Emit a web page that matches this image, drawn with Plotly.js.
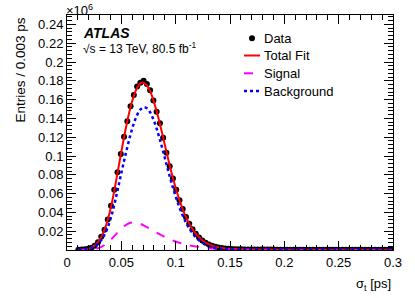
<!DOCTYPE html>
<html>
<head>
<meta charset="utf-8">
<script src="https://cdn.plot.ly/plotly-3.0.1.min.js"></script>
<style>html,body{margin:0;padding:0;background:#fff;}#chart{width:415px;height:298px;}</style>
</head>
<body>
<div id="chart"></div>
<script>
// bin centres of sigma_t [ps], bin width 0.003 ps
const sigmaT = [0.0105,0.0135,0.0165,0.0195,0.0225,0.0255,0.0285,0.0315,0.0345,0.0375,
0.0405,0.0435,0.0465,0.0495,0.0525,0.0555,0.0585,0.0615,0.0645,0.0675,
0.0705,0.0735,0.0765,0.0795,0.0825,0.0855,0.0885,0.0915,0.0945,0.0975,
0.1005,0.1035,0.1065,0.1095,0.1125,0.1155,0.1185,0.1215,0.1245,0.1275,
0.1305,0.1335,0.1365,0.1395,0.1425,0.1455,0.1485,0.1515,0.1545,0.1575,
0.1605,0.1635,0.1665,0.1695,0.1725,0.1755,0.1785,0.1815,0.1845,0.1875,
0.1905,0.1935,0.1965,0.1995,0.2025,0.2055,0.2085,0.2115,0.2145,0.2175,
0.2205,0.2235,0.2265,0.2295,0.2325,0.2355,0.2385,0.2415,0.2445,0.2475,
0.2505,0.2535,0.2565,0.2595,0.2625,0.2655,0.2685,0.2715,0.2745,0.2775,
0.2805,0.2835,0.2865,0.2895,0.2925,0.2955,0.2985];

// entries (x10^6)
const dataEntries = [0.0003,0.0005,0.0008,0.0014,0.0025,0.0045,0.0082,0.0140,0.0215,0.0325,
0.0470,0.0640,0.0826,0.1020,0.1205,0.1370,0.1530,0.1650,0.1740,0.1780,
0.1800,0.1766,0.1700,0.1590,0.1470,0.1348,0.1195,0.1035,0.0890,0.0760,
0.0640,0.0530,0.0435,0.0350,0.0280,0.0222,0.0172,0.0132,0.0100,0.0076,
0.0058,0.0044,0.0034,0.0026,0.0020,0.0016,0.0013,0.0011,0.0009,0.0008,
0.0007,0.0006,0.0006,0.0005,0.0005,0.0005,0.0004,0.0004,0.0004,0.0004,
0.0004,0.0003,0.0003,0.0003,0.0003,0.0003,0.0003,0.0003,0.0003,0.0003,
0.0003,0.0003,0.0003,0.0003,0.0003,0.0003,0.0003,0.0003,0.0003,0.0003,
0.0003,0.0002,0.0002,0.0002,0.0002,0.0002,0.0002,0.0002,0.0002,0.0002,
0.0002,0.0002,0.0002,0.0002,0.0002,0.0002,0.0002];

const totalFit = [0.0002,0.0004,0.0008,0.0014,0.0026,0.0047,0.0083,0.0138,0.0216,0.0322,
0.0460,0.0630,0.0820,0.1015,0.1200,0.1370,0.1520,0.1640,0.1725,0.1772,
0.1780,0.1752,0.1690,0.1595,0.1475,0.1340,0.1195,0.1045,0.0900,0.0765,
0.0640,0.0530,0.0433,0.0350,0.0280,0.0222,0.0174,0.0135,0.0104,0.0080,
0.0061,0.0047,0.0036,0.0028,0.0022,0.0017,0.0014,0.0012,0.0010,0.0009,
0.0008,0.0007,0.0006,0.0006,0.0005,0.0005,0.0005,0.0004,0.0004,0.0004,
0.0004,0.0004,0.0003,0.0003,0.0003,0.0003,0.0003,0.0003,0.0003,0.0003,
0.0003,0.0003,0.0003,0.0003,0.0003,0.0003,0.0003,0.0003,0.0003,0.0003,
0.0003,0.0002,0.0002,0.0002,0.0002,0.0002,0.0002,0.0002,0.0002,0.0002,
0.0002,0.0002,0.0002,0.0002,0.0002,0.0002,0.0002];

const signalFit = [0.0000,0.0000,0.0001,0.0002,0.0005,0.0010,0.0019,0.0033,0.0053,0.0080,
0.0112,0.0148,0.0186,0.0222,0.0253,0.0276,0.0290,0.0294,0.0289,0.0278,
0.0262,0.0244,0.0225,0.0205,0.0185,0.0166,0.0148,0.0131,0.0115,0.0101,
0.0088,0.0077,0.0067,0.0058,0.0050,0.0043,0.0037,0.0032,0.0027,0.0023,
0.0019,0.0016,0.0013,0.0011,0.0009,0.0007,0.0006,0.0005,0.0004,0.0003,
0.0003,0.0002,0.0002,0.0001,0.0001,0.0001,0.0001,0.0001,0.0001,0.0001,
0.0000,0.0000,0.0000,0.0000,0.0000,0.0000,0.0000,0.0000,0.0000,0.0000,
0.0000,0.0000,0.0000,0.0000,0.0000,0.0000,0.0000,0.0000,0.0000,0.0000,
0.0000,0.0000,0.0000,0.0000,0.0000,0.0000,0.0000,0.0000,0.0000,0.0000,
0.0000,0.0000,0.0000,0.0000,0.0000,0.0000,0.0000];

const backgroundFit = [0.0002,0.0004,0.0007,0.0012,0.0021,0.0037,0.0064,0.0105,0.0163,0.0242,
0.0348,0.0482,0.0634,0.0793,0.0947,0.1094,0.1230,0.1346,0.1436,0.1494,
0.1518,0.1508,0.1465,0.1390,0.1290,0.1174,0.1047,0.0914,0.0785,0.0664,
0.0552,0.0453,0.0366,0.0292,0.0230,0.0179,0.0137,0.0103,0.0077,0.0057,
0.0042,0.0031,0.0023,0.0017,0.0013,0.0010,0.0008,0.0007,0.0006,0.0006,
0.0005,0.0005,0.0004,0.0005,0.0004,0.0004,0.0004,0.0003,0.0003,0.0003,
0.0004,0.0004,0.0003,0.0003,0.0003,0.0003,0.0003,0.0003,0.0003,0.0003,
0.0003,0.0003,0.0003,0.0003,0.0003,0.0003,0.0003,0.0003,0.0003,0.0003,
0.0003,0.0002,0.0002,0.0002,0.0002,0.0002,0.0002,0.0002,0.0002,0.0002,
0.0002,0.0002,0.0002,0.0002,0.0002,0.0002,0.0002];

const xTickVals = [0,0.05,0.1,0.15,0.2,0.25,0.3];
const xTickText = ['0','0.05','0.1','0.15','0.2','0.25','0.3'];
const yTickVals = [0.02,0.04,0.06,0.08,0.1,0.12,0.14,0.16,0.18,0.2,0.22,0.24];
const yTickText = ['0.02','0.04','0.06','0.08','0.1','0.12','0.14','0.16','0.18','0.2','0.22','0.24'];
const legendNames = ['Data','Total Fit','Signal','Background'];

const FONT = 'Liberation Sans, Arial, Helvetica, sans-serif';
const colors = {data:'#000000', total:'#ff0000', signal:'#ff00ff', bkg:'#0000ff'};

const traces = [
  {x: sigmaT, y: dataEntries, type:'scatter', mode:'markers', name:legendNames[0],
   marker:{color:colors.data, size:6}},
  {x: sigmaT, y: totalFit, type:'scatter', mode:'lines', name:legendNames[1],
   line:{color:colors.total, width:2, shape:'spline'}},
  {x: sigmaT, y: signalFit, type:'scatter', mode:'lines', name:legendNames[2],
   line:{color:colors.signal, width:2, dash:'dash', shape:'spline'}},
  {x: sigmaT, y: backgroundFit, type:'scatter', mode:'lines', name:legendNames[3],
   line:{color:colors.bkg, width:2.5, dash:'dot', shape:'spline'}}
];

const axisCommon = {
  showline:true, linecolor:'#000', linewidth:1, mirror:'allticks',
  ticks:'inside', ticklen:9, tickwidth:1, tickcolor:'#000',
  showgrid:false, zeroline:false,
  tickfont:{family:FONT, size:13, color:'#000'}
};

// legend built in paper coordinates (plot area: 326 x 235 px)
const px = v => (v - 67) / 326;
const py = v => (250 - v) / 235;
const rowY = [38.3, 55.5, 73.3, 91];
const legShapes = [
  {type:'circle', xref:'paper', yref:'paper', x0:px(249), x1:px(255), y0:py(rowY[0]+3), y1:py(rowY[0]-3),
   fillcolor:colors.data, line:{width:0}},
  {type:'line', xref:'paper', yref:'paper', x0:px(244), x1:px(260), y0:py(rowY[1]), y1:py(rowY[1]),
   line:{color:colors.total, width:2}},
  {type:'line', xref:'paper', yref:'paper', x0:px(244), x1:px(260), y0:py(rowY[2]), y1:py(rowY[2]),
   line:{color:colors.signal, width:2, dash:'dash'}},
  {type:'line', xref:'paper', yref:'paper', x0:px(244), x1:px(260), y0:py(rowY[3]), y1:py(rowY[3]),
   line:{color:colors.bkg, width:2.5, dash:'dot'}}
];
const legTexts = legendNames.map((n, i) => ({
  xref:'paper', yref:'paper', x:px(262), y:py(rowY[i]), xanchor:'left', yanchor:'middle',
  showarrow:false, text:n, font:{family:FONT, size:13, color:'#000'}
}));

const layout = {
  width:415, height:298,
  margin:{l:67, r:22, t:15, b:48},
  paper_bgcolor:'#fff', plot_bgcolor:'#fff',
  font:{family:FONT, size:13, color:'#000'},
  showlegend:false,
  xaxis: Object.assign({}, axisCommon, {
    range:[0,0.3], tickmode:'array', tickvals:xTickVals, ticktext:xTickText,
    minor:{ticks:'inside', dtick:0.01, ticklen:5, tickcolor:'#000', showgrid:false}
  }),
  yaxis: Object.assign({}, axisCommon, {
    range:[0,0.25], tickmode:'array', tickvals:yTickVals, ticktext:yTickText,
    minor:{ticks:'inside', dtick:0.004, tick0:0, ticklen:5, tickcolor:'#000', showgrid:false}
  }),
  shapes: legShapes,
  annotations:[
    {xref:'paper', yref:'paper', x:1, y:py(284), xanchor:'right', yanchor:'middle', showarrow:false,
     text:'σ<sub>t</sub> [ps]', font:{family:FONT, size:13}},
    {xref:'paper', yref:'paper', x:px(20), y:py(16), xanchor:'center', yanchor:'top', showarrow:false,
     textangle:-90, text:'Entries / 0.003 ps', font:{family:FONT, size:13.5}},
    {xref:'paper', yref:'paper', x:px(64), y:py(0), xanchor:'left', yanchor:'top', showarrow:false,
     text:'×10<sup>6</sup>', font:{family:FONT, size:13}},
    {xref:'paper', yref:'paper', x:px(82), y:py(33), xanchor:'left', yanchor:'middle', showarrow:false,
     text:'<b><i>ATLAS</i></b>', font:{family:FONT, size:14}, borderpad:0},
    {xref:'paper', yref:'paper', x:px(82), y:py(48), xanchor:'left', yanchor:'middle', showarrow:false,
     text:'√s = 13 TeV, 80.5 fb<sup>-1</sup>', font:{family:FONT, size:12}, borderpad:0}
  ].concat(legTexts)
};

Plotly.newPlot('chart', traces, layout, {staticPlot:true, displayModeBar:false});
</script>
</body>
</html>
